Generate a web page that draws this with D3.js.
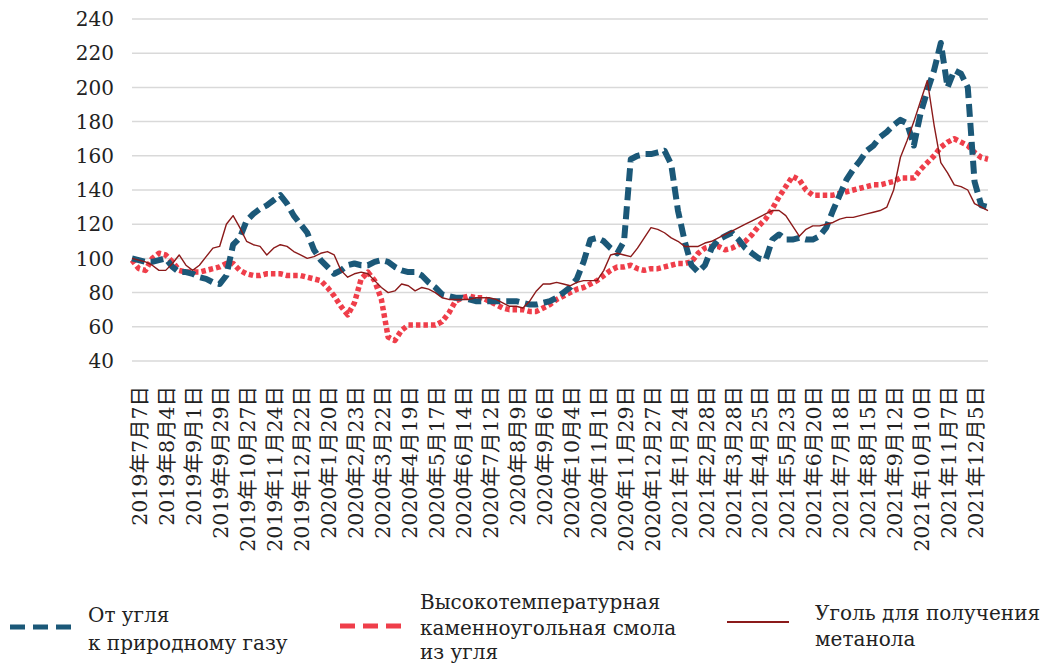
<!DOCTYPE html>
<html>
<head>
<meta charset="utf-8">
<script src="https://cdn.jsdelivr.net/npm/d3@7"></script>
<style>
  body { margin: 0; background: #fff; }
  svg text { font-family: "DejaVu Serif", "Noto Sans CJK SC", serif; fill: #222; }
</style>
</head>
<body>
<div id="chart"></div>
<script>
// weekly index values, 2019-07-07 .. 2021-12
var tickLabels = ["2019年7月7日", "2019年8月4日", "2019年9月1日", "2019年9月29日", "2019年10月27日",
  "2019年11月24日", "2019年12月22日", "2020年1月20日", "2020年2月23日", "2020年3月22日",
  "2020年4月19日", "2020年5月17日", "2020年6月14日", "2020年7月12日", "2020年8月9日",
  "2020年9月6日", "2020年10月4日", "2020年11月1日", "2020年11月29日", "2020年12月27日",
  "2021年1月24日", "2021年2月28日", "2021年3月28日", "2021年4月25日", "2021年5月23日",
  "2021年6月20日", "2021年7月18日", "2021年8月15日", "2021年9月12日", "2021年10月10日",
  "2021年11月7日", "2021年12月5日"];

var yTicks = [40, 60, 80, 100, 120, 140, 160, 180, 200, 220, 240];

var seriesNames = ["От угля\nк природному газу",
  "Высокотемпературная\nкаменноугольная смола\nиз угля",
  "Уголь для получения\nметанола"];

var coalToGas = [100, 99, 98, 98, 99, 100, 95, 92, 92, 91, 89, 88, 86, 85, 90, 108,
  112, 122, 126, 129, 131, 134, 137, 132, 125, 120, 115, 105, 99, 95, 91, 93,
  96, 97, 96, 96, 98, 99, 98, 95, 93, 92, 92, 90, 86, 83, 79, 78,
  77, 77, 76, 75, 75, 75, 75, 75, 75, 75, 74, 73, 73, 74, 75, 77,
  80, 83, 88, 98, 111, 112, 110, 106, 103, 110, 158, 160, 161, 161, 162, 163,
  155, 128, 110, 96, 92, 96, 106, 111, 113, 115, 111, 106, 103, 100, 99, 111,
  114, 111, 111, 112, 111, 111, 113, 118, 128, 137, 146, 152, 157, 163, 166, 171,
  174, 178, 181, 179, 166, 185, 198, 210, 226, 200, 210, 208, 200, 145, 131, 130];

var coalTar = [99, 94, 93, 100, 103, 102, 98, 93, 92, 92, 92, 93, 94, 95, 97, 97,
  93, 91, 90, 90, 91, 91, 91, 90, 90, 90, 89, 88, 87, 83, 78, 72,
  67, 74, 88, 92, 87, 76, 54, 52, 58, 61, 61, 61, 61, 61, 63, 68,
  75, 77, 78, 77, 77, 75, 73, 71, 70, 70, 70, 69, 69, 71, 73, 76,
  78, 80, 82, 83, 85, 87, 90, 93, 95, 95, 96, 94, 93, 94, 94, 95,
  96, 97, 97, 98, 103, 106, 107, 107, 105, 106, 108, 110, 114, 119, 123, 129,
  136, 142, 148, 146, 140, 137, 137, 137, 137, 138, 139, 140, 141, 142, 143, 143,
  144, 145, 147, 147, 147, 152, 156, 160, 165, 168, 170, 168, 166, 162, 159, 158];

var methanolCoal = [100, 99, 98, 96, 93, 93, 97, 102, 96, 93, 96, 101, 106, 107, 120, 125,
  118, 110, 108, 107, 102, 106, 108, 107, 104, 102, 100, 101, 103, 104, 102, 93,
  89, 91, 92, 91, 87, 83, 80, 81, 85, 84, 81, 83, 82, 80, 77, 76,
  76, 76, 76, 77, 77, 77, 76, 74, 72, 72, 71, 75, 81, 85, 85, 86,
  85, 84, 86, 87, 87, 87, 93, 102, 103, 102, 101, 106, 112, 118, 117, 115,
  112, 110, 107, 107, 107, 109, 110, 112, 114, 116, 118, 120, 122, 124, 126, 128,
  128, 125, 119, 113, 117, 119, 119, 120, 121, 123, 124, 124, 125, 126, 127, 128,
  130, 140, 159, 169, 180, 192, 204, 178, 156, 150, 143, 142, 140, 132, 130, 128];

var width = 1061, height = 663;
var svg = d3.select("#chart").append("svg")
  .attr("width", width).attr("height", height);

var idx = d3.range(coalToGas.length);
var x = d3.scalePoint().domain(idx).range([132, 988]);
var y = d3.scaleLinear().domain([40, 240]).range([361, 19]);

// grid
svg.append("g").selectAll("line").data(yTicks).enter().append("line")
  .attr("x1", 132).attr("x2", 988)
  .attr("y1", function(d) { return y(d); }).attr("y2", function(d) { return y(d); })
  .attr("stroke", "#d9d9d9").attr("stroke-width", 1.5);

// y labels
svg.append("g").selectAll("text").data(yTicks).enter().append("text")
  .attr("x", 114).attr("y", function(d) { return y(d); })
  .attr("dy", "0.36em").attr("text-anchor", "end")
  .style("font-size", "20px")
  .text(function(d) { return d; });

// x labels, every 4th week
svg.append("g").selectAll("text").data(tickLabels).enter().append("text")
  .attr("transform", function(d, i) {
    return "translate(" + (x(i * 4) + 8) + ",386) rotate(-90)";
  })
  .attr("text-anchor", "end").attr("dy", "0.36em")
  .style("font-size", "20.5px")
  .text(function(d) { return d; });

var line = function(vals) {
  return d3.line()
    .x(function(d, i) { return x(i); })
    .y(function(d) { return y(d); })(vals);
};

var styles = [
  { color: "#1b5878", w: 6, dash: "13,6" },
  { color: "#ef3e4a", w: 5.5, dash: "4.5,3" },
  { color: "#8b1a1a", w: 1.4, dash: null }
];
var allSeries = [coalToGas, coalTar, methanolCoal];

// draw thin line last so it stays visible on top
[1, 0, 2].forEach(function(k) {
  svg.append("path")
    .attr("d", line(allSeries[k]))
    .attr("fill", "none")
    .attr("stroke", styles[k].color)
    .attr("stroke-width", styles[k].w)
    .attr("stroke-dasharray", styles[k].dash)
    .attr("stroke-linejoin", "round");
});

// legend
var legend = [
  { sx: 10, sy: 627, tx: 88, lines: [622, 650] },
  { sx: 340, sy: 626, tx: 420, lines: [609, 635, 659] },
  { sx: 727, sy: 622, tx: 815, lines: [620, 646] }
];
legend.forEach(function(l, k) {
  var sw = svg.append("line")
    .attr("x1", l.sx).attr("x2", l.sx + 62)
    .attr("y1", l.sy).attr("y2", l.sy)
    .attr("stroke", styles[k].color);
  if (k === 2) {
    sw.attr("stroke-width", 2);
  } else {
    sw.attr("stroke-width", 5).attr("stroke-dasharray", "15,8");
  }
  var parts = seriesNames[k].split("\n");
  svg.append("g").selectAll("text").data(parts).enter().append("text")
    .attr("x", l.tx).attr("y", function(d, i) { return l.lines[i]; })
    .style("font-size", "20px")
    .text(function(d) { return d; });
});
</script>
</body>
</html>
